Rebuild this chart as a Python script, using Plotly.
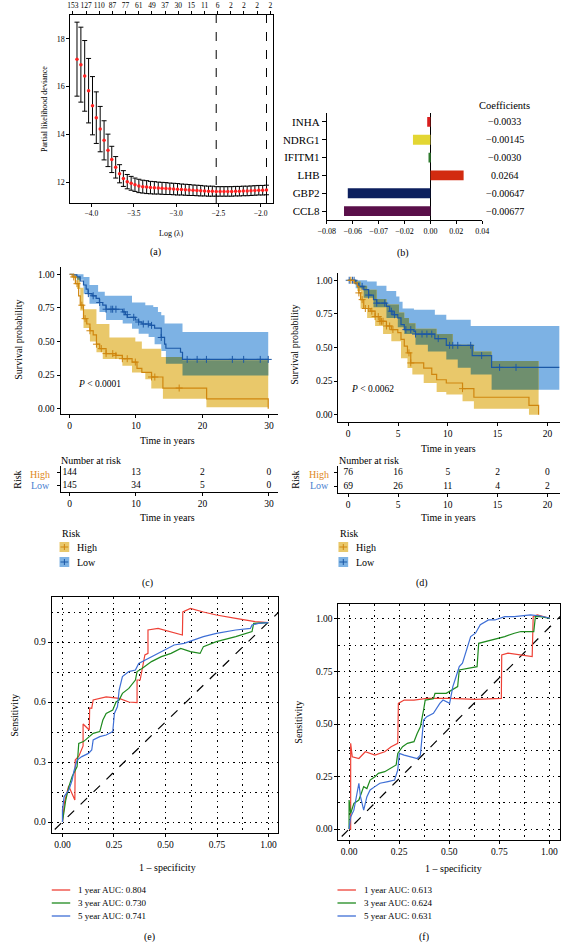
import plotly.graph_objects as go
from bisect import bisect_right

FONT = "Liberation Serif"
W, H = 568, 942


def px(x):
    return x / W


def py(y):
    return 1 - y / H


def xdom(a, b):
    return [a / W, b / W]


def ydom(top, bot):
    return [1 - bot / H, 1 - top / H]


# ---------------- (a) LASSO cross-validation ----------------
log_lambda = [-4.170, -4.124, -4.079, -4.033, -3.987, -3.942, -3.896, -3.850, -3.804, -3.759,
              -3.713, -3.667, -3.622, -3.576, -3.530, -3.485, -3.439, -3.393, -3.347, -3.302,
              -3.256, -3.210, -3.165, -3.119, -3.073, -3.028, -2.982, -2.936, -2.890, -2.845,
              -2.799, -2.753, -2.708, -2.662, -2.616, -2.571, -2.525, -2.479, -2.433, -2.388,
              -2.342, -2.296, -2.251, -2.205, -2.159, -2.114, -2.068, -2.022, -1.976, -1.931]
deviance = [17.15, 16.92, 16.45, 15.83, 15.20, 14.70, 14.22, 13.75, 13.33, 12.95,
            12.62, 12.35, 12.15, 12.02, 11.95, 11.89, 11.84, 11.81, 11.79, 11.77,
            11.76, 11.75, 11.74, 11.73, 11.72, 11.71, 11.70, 11.69, 11.68, 11.67,
            11.66, 11.65, 11.64, 11.63, 11.62, 11.62, 11.61, 11.61, 11.61, 11.61,
            11.61, 11.62, 11.62, 11.63, 11.63, 11.64, 11.65, 11.66, 11.66, 11.67]
deviance_se = [1.55, 1.57, 1.48, 1.35, 1.22, 1.08, 0.95, 0.82, 0.68, 0.55,
               0.45, 0.38, 0.33, 0.30, 0.29, 0.28, 0.28, 0.27, 0.27, 0.26,
               0.26, 0.25, 0.25, 0.25, 0.24, 0.24, 0.24, 0.23, 0.23, 0.23,
               0.22, 0.22, 0.22, 0.21, 0.21, 0.21, 0.20, 0.20, 0.20, 0.20,
               0.20, 0.20, 0.20, 0.20, 0.20, 0.20, 0.20, 0.20, 0.20, 0.20]
lambda_lines = [-2.525, -1.931]
top_tick_pos = [-4.218, -4.063, -3.907, -3.752, -3.596, -3.441, -3.285, -3.130,
                -2.974, -2.819, -2.663, -2.508, -2.352, -2.197, -2.041, -1.886]
top_tick_labels = ["153", "127", "110", "87", "77", "61", "49", "37",
                   "30", "15", "11", "6", "2", "2", "2", "2"]

# ---------------- (b) coefficients ----------------
genes = ["INHA", "NDRG1", "IFITM1", "LHB", "GBP2", "CCL8"]
bar_values = [-0.0025, -0.0135, -0.0015, 0.0256, -0.0638, -0.0667]
coef_labels = ["\u22120.0033", "\u22120.00145", "\u22120.0030", "0.0264", "\u22120.00647", "\u22120.00677"]
bar_colors = ["#D81E1E", "#E3D633", "#2E7A2E", "#D22B10", "#0C1F5E", "#5A0F4A"]
b_tickvals = [-0.08, -0.06, -0.04, -0.02, 0.0, 0.02, 0.04]
b_ticktext = ["\u22120.08", "\u22120.06", "\u22120.07", "\u22120.02", "0.00", "0.02", "0.04"]

# ---------------- (c) KM training ----------------
c_low_t = [0, 0.5, 1.1, 1.6, 2.1, 2.5, 2.8, 3.4, 4.0, 4.5, 5.0, 5.5, 8.0, 8.4, 8.7, 9.9, 10.4,
           10.9, 12.3, 12.8, 13.8, 14.3, 14.5, 16.7, 17.0]
c_low_s = [1.0, 0.995, 0.98, 0.95, 0.92, 0.89, 0.856, 0.84, 0.82, 0.79, 0.77, 0.74, 0.72, 0.70,
           0.68, 0.66, 0.645, 0.63, 0.62, 0.60, 0.53, 0.48, 0.45, 0.42, 0.367]
c_low_up_t = [0, 2.1, 3.0, 4.3, 5.3, 9.4, 11.4, 12.6, 13.3, 13.8, 14.3, 17.0]
c_low_up_v = [1.0, 0.98, 0.92, 0.87, 0.84, 0.79, 0.77, 0.757, 0.72, 0.695, 0.633, 0.57]
c_low_lo_t = [0, 1.1, 2.1, 3.0, 4.5, 5.5, 8.0, 9.4, 10.4, 11.9, 12.8, 13.8, 14.5, 17.0]
c_low_lo_v = [1.0, 0.96, 0.856, 0.78, 0.72, 0.66, 0.633, 0.595, 0.558, 0.533, 0.48, 0.43, 0.335, 0.248]
c_low_end = 29.9
c_low_cens = [2.83, 3.56, 4.54, 5.5, 6.24, 6.49, 6.98, 8.2, 8.68, 9.66, 10.4, 11.1, 11.85,
              12.34, 13.8, 17.7, 19.2, 20.6, 24.5, 26.2, 28.7, 29.9]

c_high_t = [0, 0.39, 0.88, 1.37, 1.61, 2.1, 2.59, 3.07, 3.56, 4.05, 4.54, 5.5, 6.98, 7.95,
            9.41, 10.15, 10.88, 12.34, 14.05, 20.63, 29.9]
c_high_s = [1.0, 0.98, 0.93, 0.84, 0.77, 0.67, 0.63, 0.58, 0.55, 0.48, 0.447, 0.41, 0.397, 0.372,
            0.347, 0.30, 0.27, 0.236, 0.154, 0.074, 0.0]
c_high_up_t = [0, 1.0, 1.6, 2.1, 4.05, 6.0, 9.9, 10.88, 13.8, 17.0]
c_high_up_v = [1.0, 0.98, 0.90, 0.74, 0.63, 0.53, 0.50, 0.447, 0.385, 0.36]
c_high_lo_t = [0, 0.6, 1.12, 1.61, 2.1, 3.07, 4.05, 5.0, 7.95, 9.4, 11.4, 12.3, 14.05, 20.6]
c_high_lo_v = [1.0, 0.97, 0.89, 0.73, 0.60, 0.50, 0.42, 0.37, 0.32, 0.27, 0.22, 0.15, 0.074, 0.012]
c_high_end = 29.9
c_high_cens = [0.63, 1.12, 1.85, 2.34, 3.07, 4.05, 4.78, 5.5, 6.5, 6.98, 7.95, 8.68, 9.9,
               12.34, 12.83, 16.5]

c_times = [0, 10, 20, 30]
c_risk_high = ["144", "13", "2", "0"]
c_risk_low = ["145", "34", "5", "0"]

# ---------------- (d) KM validation ----------------
d_low_t = [0, 0.75, 1.07, 1.56, 2.05, 2.54, 2.86, 3.84, 4.16, 4.49, 4.98, 5.3, 5.63, 6.6, 6.76,
           8.7, 9.85, 12.45, 14.4]
d_low_s = [1.0, 0.975, 0.955, 0.93, 0.89, 0.856, 0.83, 0.806, 0.77, 0.744, 0.72, 0.67, 0.633,
           0.62, 0.60, 0.566, 0.516, 0.44, 0.352]
d_low_up_t = [0, 1.9, 2.86, 3.84, 4.82, 5.14, 5.46, 6.6, 8.7, 9.85, 12.3]
d_low_up_v = [1.0, 0.99, 0.96, 0.92, 0.88, 0.84, 0.79, 0.78, 0.744, 0.707, 0.66]
d_low_lo_t = [0, 0.75, 1.56, 2.54, 3.84, 4.98, 5.63, 6.76, 8.0, 9.85, 11.0, 12.3, 14.4]
d_low_lo_v = [1.0, 0.94, 0.87, 0.80, 0.72, 0.65, 0.60, 0.52, 0.47, 0.41, 0.35, 0.30, 0.186]
d_low_end = 21.2
d_low_cens = [0.1, 0.42, 0.59, 1.4, 2.05, 2.86, 3.67, 4.33, 4.65, 5.79, 6.28, 6.76, 7.41, 7.9,
              8.39, 9.04, 10.18, 10.5, 11.0, 12.3, 13.4, 15.2, 16.85]

d_high_t = [0, 0.59, 0.91, 1.07, 1.24, 1.56, 2.21, 2.7, 3.19, 3.84, 4.33, 4.98, 5.3, 5.63,
            5.95, 6.28, 7.58, 8.39, 8.88, 9.85, 11.48, 12.62, 18.15, 19.12]
d_high_s = [1.0, 0.98, 0.955, 0.906, 0.856, 0.79, 0.77, 0.73, 0.695, 0.66, 0.633, 0.61, 0.56,
            0.51, 0.46, 0.385, 0.347, 0.30, 0.26, 0.236, 0.194, 0.13, 0.07, 0.0]
d_high_up_t = [0, 0.9, 1.24, 1.9, 2.86, 3.84, 5.1, 5.63, 6.1, 6.76, 8.88, 10.5, 12.62, 14.4]
d_high_up_v = [1.0, 0.99, 0.96, 0.93, 0.86, 0.82, 0.76, 0.72, 0.68, 0.64, 0.60, 0.52, 0.47, 0.40]
d_high_lo_t = [0, 0.59, 0.91, 1.24, 1.9, 2.7, 3.5, 4.33, 5.3, 5.95, 6.44, 7.58, 8.88, 9.85,
               11.48, 12.62, 18.15]
d_high_lo_v = [1.0, 0.97, 0.92, 0.79, 0.72, 0.66, 0.60, 0.546, 0.42, 0.347, 0.30, 0.236, 0.17,
               0.15, 0.10, 0.045, 0.0]
d_high_end = 19.12
d_high_cens = [0.26, 1.07, 1.4, 1.72, 2.05, 2.37, 2.7, 3.02, 3.19, 3.35, 3.5, 3.84, 4.16, 4.49,
               6.1, 6.28, 11.48]

d_times = [0, 5, 10, 15, 20]
d_risk_high = ["76", "16", "5", "2", "0"]
d_risk_low = ["69", "26", "11", "4", "2"]

# ---------------- (e) ROC training ----------------
e_red_x = [0, 0.01, 0.03, 0.045, 0.06, 0.062, 0.08, 0.1, 0.1, 0.12, 0.13, 0.132, 0.142, 0.149,
           0.212, 0.275, 0.322, 0.362, 0.362, 0.377, 0.40, 0.415, 0.415, 0.464, 0.527, 0.582,
           0.584, 0.621, 0.684, 0.747, 0.841, 0.935, 0.999]
e_red_y = [0, 0.10, 0.18, 0.14, 0.11, 0.31, 0.33, 0.38, 0.49, 0.47, 0.46, 0.57, 0.568, 0.61,
           0.626, 0.618, 0.60, 0.597, 0.71, 0.71, 0.835, 0.843, 0.96, 0.968, 0.952, 0.935,
           1.05, 1.068, 1.05, 1.035, 1.018, 1.002, 0.997]
e_green_x = [0, 0.016, 0.031, 0.047, 0.071, 0.079, 0.102, 0.134, 0.149, 0.181, 0.196, 0.212,
             0.244, 0.26, 0.275, 0.291, 0.322, 0.354, 0.362, 0.386, 0.432, 0.48, 0.527, 0.574,
             0.621, 0.668, 0.684, 0.747, 0.841, 0.92, 0.928, 0.999]
e_green_y = [0, 0.11, 0.177, 0.227, 0.277, 0.393, 0.402, 0.427, 0.443, 0.452, 0.51, 0.543,
             0.56, 0.60, 0.61, 0.643, 0.668, 0.71, 0.752, 0.768, 0.802, 0.827, 0.843, 0.868,
             0.852, 0.843, 0.877, 0.902, 0.927, 0.952, 0.993, 0.997]
e_blue_x = [0, 0, 0.008, 0.031, 0.047, 0.055, 0.071, 0.094, 0.126, 0.142, 0.149, 0.181, 0.212,
            0.244, 0.252, 0.267, 0.275, 0.291, 0.322, 0.354, 0.37, 0.401, 0.448, 0.495, 0.542,
            0.59, 0.637, 0.684, 0.747, 0.841, 0.912, 0.92, 0.951, 0.999]
e_blue_y = [0, 0.06, 0.127, 0.16, 0.21, 0.252, 0.31, 0.327, 0.343, 0.36, 0.41, 0.427, 0.435,
            0.452, 0.543, 0.577, 0.66, 0.727, 0.752, 0.76, 0.793, 0.81, 0.835, 0.86, 0.885,
            0.893, 0.91, 0.927, 0.943, 0.96, 0.968, 0.985, 0.993, 0.997]
e_diag = [-0.1, 1.1]
e_labels = ["1 year AUC: 0.804", "3 year AUC: 0.730", "5 year AUC: 0.741"]

# ---------------- (f) ROC validation ----------------
f_red_x = [0, 0.008, 0.008, 0.016, 0.049, 0.081, 0.129, 0.178, 0.21, 0.243, 0.246, 0.275,
           0.324, 0.388, 0.502, 0.631, 0.76, 0.762, 0.793, 0.858, 0.914, 0.919, 0.939, 1.003]
f_red_y = [0, 0.0, 0.408, 0.344, 0.336, 0.368, 0.352, 0.368, 0.392, 0.408, 0.598, 0.614,
           0.614, 0.622, 0.622, 0.617, 0.622, 0.829, 0.837, 0.829, 0.821, 1.011, 1.019, 1.003]
f_green_x = [0, 0, 0.008, 0.024, 0.049, 0.073, 0.089, 0.105, 0.129, 0.146, 0.178, 0.21, 0.235,
             0.243, 0.267, 0.291, 0.324, 0.34, 0.356, 0.372, 0.38, 0.421, 0.429, 0.485, 0.542,
             0.55, 0.599, 0.639, 0.647, 0.712, 0.777, 0.825, 0.858, 0.922, 0.93, 0.955, 1.003]
f_green_y = [0, 0.138, 0.074, 0.122, 0.138, 0.202, 0.193, 0.233, 0.249, 0.265, 0.273, 0.289,
             0.305, 0.36, 0.392, 0.408, 0.416, 0.455, 0.487, 0.567, 0.614, 0.62, 0.646, 0.646,
             0.678, 0.757, 0.765, 0.773, 0.884, 0.9, 0.916, 0.932, 0.94, 0.94, 1.011, 1.011, 1.003]
f_blue_x = [0, 0.008, 0.024, 0.032, 0.049, 0.057, 0.073, 0.089, 0.105, 0.129, 0.154, 0.194,
            0.227, 0.243, 0.251, 0.275, 0.307, 0.34, 0.356, 0.364, 0.372, 0.388, 0.421, 0.453,
            0.469, 0.502, 0.518, 0.534, 0.55, 0.566, 0.591, 0.607, 0.631, 0.655, 0.696, 0.728,
            0.777, 0.825, 0.906, 0.955, 1.003]
f_blue_y = [0, 0.058, 0.09, 0.138, 0.218, 0.154, 0.09, 0.154, 0.186, 0.202, 0.218, 0.226,
            0.233, 0.281, 0.36, 0.352, 0.344, 0.336, 0.352, 0.424, 0.519, 0.535, 0.551, 0.598,
            0.614, 0.598, 0.678, 0.725, 0.773, 0.789, 0.868, 0.916, 0.932, 0.972, 0.995, 0.995,
            1.011, 1.011, 1.019, 1.014, 1.003]
f_diag_x = [-0.1, 1.1]
f_diag_y = [-0.096, 1.056]
f_labels = ["1 year AUC: 0.613", "3 year AUC: 0.624", "5 year AUC: 0.631"]

# ---------------- styles ----------------
BLUE_LINE = "#1B58A6"
ORANGE_LINE = "#CF860F"
BLUE_BAND = "#7DB2E4"
YELLOW_BAND = "#E9C86A"
GREEN_BAND = "#6F8F6E"
HIGH_TXT = "#E0891A"
LOW_TXT = "#4A7FD0"
ROC_RED = "#EE4136"
ROC_GREEN = "#1E8A1E"
ROC_BLUE = "#3E6FD6"

fig = go.Figure()
annotations = []
shapes = []


def ann(x, y, text, size=9.5, color="black", xanchor="center", yanchor="middle", angle=0):
    annotations.append(dict(x=px(x), y=py(y), xref="paper", yref="paper", text=text,
                            showarrow=False, xanchor=xanchor, yanchor=yanchor, textangle=angle,
                            font=dict(family=FONT, size=size, color=color)))


def axis(**kw):
    base = dict(showline=True, linecolor="black", linewidth=1, ticks="outside", tickcolor="black",
                ticklen=3, tickwidth=1, showgrid=False, zeroline=False, tickangle=0,
                tickfont=dict(family=FONT, size=9.5, color="black"))
    base.update(kw)
    return base


# ---------- (a) ----------
fig.add_trace(go.Scatter(x=log_lambda, y=deviance, mode="markers", xaxis="x", yaxis="y",
                         marker=dict(color="#FF2020", size=3.5),
                         error_y=dict(type="data", array=deviance_se, color="black",
                                      thickness=1, width=2.5), hoverinfo="skip"))
fig.add_trace(go.Scatter(x=[log_lambda[0]], y=[deviance[0]], mode="markers", xaxis="x2",
                         yaxis="y", marker=dict(opacity=0), hoverinfo="skip"))
for v in lambda_lines:
    shapes.append(dict(type="line", xref="x", yref="y domain", x0=v, x1=v, y0=0, y1=1,
                       line=dict(color="black", width=1, dash="dash")))
ann(37, 109, "Partial likelihood deviance", size=8, angle=-90)
ann(167, 233, "Log (\u03bb)", size=8)
ann(151, 252, "(a)", size=10)

# ---------- (b) ----------
fig.add_trace(go.Bar(x=bar_values, y=genes, orientation="h", xaxis="x3", yaxis="y3",
                     marker=dict(color=bar_colors, line=dict(width=0)), width=0.55,
                     hoverinfo="skip"))
ann(510, 106, "Coefficients", size=10.5)
for g, lab in zip(genes, coef_labels):
    annotations.append(dict(x=px(510), y=g, xref="paper", yref="y3", text=lab, showarrow=False,
                            xanchor="center", yanchor="middle",
                            font=dict(family=FONT, size=10, color="black")))
ann(405, 253, "(b)", size=10)


# ---------- KM helpers ----------
def step_xy(t, s, t_end):
    xs, ys = [], []
    for i in range(len(t)):
        if i > 0:
            xs.append(t[i])
            ys.append(s[i - 1])
        xs.append(t[i])
        ys.append(s[i])
    xs.append(t_end)
    ys.append(s[-1])
    return xs, ys


def step_val(t, s, x):
    i = bisect_right(t, x) - 1
    return s[max(i, 0)]


def band_polygon(tu, vu, tl, vl, t_end):
    ux, uy = step_xy(tu, vu, t_end)
    lx, ly = step_xy(tl, vl, t_end)
    return ux + lx[::-1], uy + ly[::-1]


def overlap_polygon(b1, b2, t_end):
    grid = sorted(set(b1[0] + b1[2] + b2[0] + b2[2]))
    grid = [g for g in grid if g <= t_end]
    up, lo = [], []
    for g in grid:
        u = min(step_val(b1[0], b1[1], g), step_val(b2[0], b2[1], g))
        l = max(step_val(b1[2], b1[3], g), step_val(b2[2], b2[3], g))
        if u < l:
            u = l
        up.append(u)
        lo.append(l)
    return band_polygon(grid, up, grid, lo, t_end)


def add_km(xa, ya, low, high):
    (lt, ls, lut, luv, llt, llv, lend, lcens) = low
    (ht, hs, hut, huv, hlt, hlv, hend, hcens) = high
    bx, by = band_polygon(lut, luv, llt, llv, lend)
    fig.add_trace(go.Scatter(x=bx, y=by, fill="toself", fillcolor=BLUE_BAND, mode="lines",
                             line=dict(width=0), xaxis=xa, yaxis=ya, hoverinfo="skip"))
    hx, hy = band_polygon(hut, huv, hlt, hlv, hend)
    fig.add_trace(go.Scatter(x=hx, y=hy, fill="toself", fillcolor=YELLOW_BAND, mode="lines",
                             line=dict(width=0), xaxis=xa, yaxis=ya, hoverinfo="skip"))
    ox, oy = overlap_polygon((lut, luv, llt, llv), (hut, huv, hlt, hlv), min(lend, hend))
    fig.add_trace(go.Scatter(x=ox, y=oy, fill="toself", fillcolor=GREEN_BAND, mode="lines",
                             line=dict(width=0), xaxis=xa, yaxis=ya, hoverinfo="skip"))
    for (t, s, end, cens, col) in [(lt, ls, lend, lcens, BLUE_LINE), (ht, hs, hend, hcens, ORANGE_LINE)]:
        fig.add_trace(go.Scatter(x=t + [end], y=s + [s[-1]], mode="lines", line_shape="hv",
                                 line=dict(color=col, width=1.2), xaxis=xa, yaxis=ya,
                                 hoverinfo="skip"))
        fig.add_trace(go.Scatter(x=cens, y=[step_val(t, s, c) for c in cens], mode="markers",
                                 marker=dict(symbol="cross-thin", size=5,
                                             line=dict(color=col, width=1)),
                                 xaxis=xa, yaxis=ya, hoverinfo="skip"))


def add_risk(xa, ya, times, high, low):
    fig.add_trace(go.Scatter(x=times + times, y=[1] * len(times) + [0] * len(times),
                             text=high + low, mode="text", xaxis=xa, yaxis=ya,
                             textfont=dict(family=FONT, size=9.5, color="black"),
                             hoverinfo="skip"))


def km_legend(x0, items_y):
    for (yy, band, line, name) in items_y:
        shapes.append(dict(type="rect", xref="paper", yref="paper", x0=px(x0), x1=px(x0 + 10),
                           y0=py(yy + 5), y1=py(yy - 5), fillcolor=band, line=dict(width=0)))
        shapes.append(dict(type="line", xref="paper", yref="paper", x0=px(x0 + 1), x1=px(x0 + 9),
                           y0=py(yy), y1=py(yy), line=dict(color=line, width=1)))
        shapes.append(dict(type="line", xref="paper", yref="paper", x0=px(x0 + 5), x1=px(x0 + 5),
                           y0=py(yy + 3), y1=py(yy - 3), line=dict(color=line, width=1)))
        ann(x0 + 16, yy, name, size=10, xanchor="left")


# ---------- (c) ----------
add_km("x4", "y4",
       (c_low_t, c_low_s, c_low_up_t, c_low_up_v, c_low_lo_t, c_low_lo_v, c_low_end, c_low_cens),
       (c_high_t, c_high_s, c_high_up_t, c_high_up_v, c_high_lo_t, c_high_lo_v, c_high_end, c_high_cens))
add_risk("x5", "y5", c_times, c_risk_high, c_risk_low)
ann(10, 340, "Survival probability", size=10, angle=-90)
annotations.append(dict(x=1.0, y=0.186, xref="x4", yref="y4", text="<i>P</i> < 0.0001",
                        showarrow=False, xanchor="left", yanchor="middle",
                        font=dict(family=FONT, size=9.5, color="black")))
ann(163, 440, "Time in years", size=10)
ann(51, 460, "Number at risk", size=10, xanchor="left")
ann(44, 474, "High", size=10, color=HIGH_TXT, xanchor="right")
ann(44, 485, "Low", size=10, color=LOW_TXT, xanchor="right")
ann(8, 480, "Risk", size=10, angle=-90)
ann(163, 517, "Time in years", size=10)
ann(52, 533, "Risk", size=10, xanchor="left")
km_legend(52, [(547, YELLOW_BAND, ORANGE_LINE, "High"), (562, BLUE_BAND, BLUE_LINE, "Low")])
ann(143, 583, "(c)", size=10)

# ---------- (d) ----------
add_km("x6", "y6",
       (d_low_t, d_low_s, d_low_up_t, d_low_up_v, d_low_lo_t, d_low_lo_v, d_low_end, d_low_cens),
       (d_high_t, d_high_s, d_high_up_t, d_high_up_v, d_high_lo_t, d_high_lo_v, d_high_end, d_high_cens))
add_risk("x7", "y7", d_times, d_risk_high, d_risk_low)
ann(293, 345, "Survival probability", size=10, angle=-90)
annotations.append(dict(x=0.1, y=0.19, xref="x6", yref="y6", text="<i>P</i> < 0.0062",
                        showarrow=False, xanchor="left", yanchor="middle",
                        font=dict(family=FONT, size=9.5, color="black")))
ann(452, 448, "Time in years", size=10)
ann(338, 460, "Number at risk", size=10, xanchor="left")
ann(331, 474, "High", size=10, color=HIGH_TXT, xanchor="right")
ann(331, 485, "Low", size=10, color=LOW_TXT, xanchor="right")
ann(294, 480, "Risk", size=10, angle=-90)
ann(452, 517, "Time in years", size=10)
ann(339, 533, "Risk", size=10, xanchor="left")
km_legend(339, [(547, YELLOW_BAND, ORANGE_LINE, "High"), (562, BLUE_BAND, BLUE_LINE, "Low")])
ann(425, 583, "(d)", size=10)


# ---------- ROC ----------
def add_roc(xa, ya, curves):
    for (xs, ys, col) in curves:
        fig.add_trace(go.Scatter(x=xs, y=ys, mode="lines", line=dict(color=col, width=1.2),
                                 xaxis=xa, yaxis=ya, hoverinfo="skip"))


def roc_legend(x0, ys, labels):
    for yy, lab, col in zip(ys, labels, [ROC_RED, ROC_GREEN, ROC_BLUE]):
        shapes.append(dict(type="line", xref="paper", yref="paper", x0=px(x0), x1=px(x0 + 19),
                           y0=py(yy), y1=py(yy), line=dict(color=col, width=1.3)))
        ann(x0 + 25, yy, lab, size=9, xanchor="left")


fig.add_trace(go.Scatter(x=e_diag, y=e_diag, mode="lines", xaxis="x8", yaxis="y8",
                         line=dict(color="black", width=1.2, dash="dash"), hoverinfo="skip"))
add_roc("x8", "y8", [(e_red_x, e_red_y, ROC_RED), (e_green_x, e_green_y, ROC_GREEN),
                     (e_blue_x, e_blue_y, ROC_BLUE)])
ann(5, 715, "Sensitivity", size=10, angle=-90)
ann(163, 867, "1 \u2013 specificity", size=10)
roc_legend(44, [890, 903, 916], e_labels)
ann(145, 937, "(e)", size=10)

fig.add_trace(go.Scatter(x=f_diag_x, y=f_diag_y, mode="lines", xaxis="x9", yaxis="y9",
                         line=dict(color="black", width=1.2, dash="dash"), hoverinfo="skip"))
add_roc("x9", "y9", [(f_red_x, f_red_y, ROC_RED), (f_green_x, f_green_y, ROC_GREEN),
                     (f_blue_x, f_blue_y, ROC_BLUE)])
ann(297, 722, "Sensitivity", size=10, angle=-90)
ann(457, 868, "1 \u2013 specificity", size=10)
roc_legend(338, [890, 903, 916], f_labels)
ann(427, 937, "(f)", size=10)

GRID = dict(showgrid=True, gridcolor="black", gridwidth=1.3, griddash="1.5px,4px")

fig.update_layout(
    width=W, height=H, margin=dict(l=0, r=0, t=0, b=0),
    paper_bgcolor="white", plot_bgcolor="white", showlegend=False,
    font=dict(family=FONT, color="black"),
    annotations=annotations, shapes=shapes,
    # (a)
    xaxis=axis(domain=xdom(63, 272), range=[-4.25, -1.85], anchor="y", mirror=True,
               tickvals=[-4, -3.5, -3, -2.5, -2], tickformat=".1f",
               tickfont=dict(family=FONT, size=7.5, color="black")),
    xaxis2=axis(overlaying="x", side="top", anchor="y", range=[-4.25, -1.85], showline=False,
                tickvals=top_tick_pos, ticktext=top_tick_labels,
                tickfont=dict(family=FONT, size=7.5, color="black")),
    yaxis=axis(domain=ydom(15, 203), range=[11.125, 19.0], anchor="x", mirror=True,
               tickvals=[12, 14, 16, 18], tickfont=dict(family=FONT, size=8, color="black")),
    # (b)
    xaxis3=axis(domain=xdom(327, 487), range=[-0.08, 0.04], anchor="y3", tickvals=b_tickvals,
                ticktext=b_ticktext, zeroline=True, zerolinecolor="black", zerolinewidth=1,
                tickfont=dict(family=FONT, size=8, color="black")),
    yaxis3=axis(domain=ydom(113, 220), anchor="x3", categoryorder="array",
                categoryarray=genes[::-1], range=[-0.5, 5.5], ticklen=4,
                tickfont=dict(family=FONT, size=11, color="black")),
    # (c)
    xaxis4=axis(domain=xdom(53, 277), range=[-1.36, 31.4], anchor="y4", tickvals=c_times),
    yaxis4=axis(domain=ydom(267, 414), range=[-0.039, 1.054], anchor="x4",
                tickvals=[0, 0.25, 0.5, 0.75, 1.0], tickformat=".2f"),
    xaxis5=axis(domain=xdom(53, 277), range=[-1.36, 31.4], anchor="y5", tickvals=c_times),
    yaxis5=axis(domain=ydom(466, 492), range=[-0.5, 1.5], anchor="x5", tickvals=[0, 1],
                showticklabels=False),
    # (d)
    xaxis6=axis(domain=xdom(339, 567), range=[-0.98, 21.27], anchor="y6", tickvals=d_times),
    yaxis6=axis(domain=ydom(273, 422), range=[-0.054, 1.054], anchor="x6",
                tickvals=[0, 0.25, 0.5, 0.75, 1.0], tickformat=".2f"),
    xaxis7=axis(domain=xdom(339, 567), range=[-0.98, 21.27], anchor="y7", tickvals=d_times),
    yaxis7=axis(domain=ydom(466, 493), range=[-0.5, 1.5], anchor="x7", tickvals=[0, 1],
                showticklabels=False),
    # (e)
    xaxis8=axis(domain=xdom(44, 277), range=[-0.052, 1.047], anchor="y8", mirror=True,
                tick0=0, dtick=0.25, tickformat=".2f",
                minor=dict(dtick=0.125, tick0=0, **GRID), **GRID),
    yaxis8=axis(domain=ydom(597, 833), range=[-0.055, 1.125], anchor="x8", mirror=True,
                tick0=0, dtick=0.3, tickformat=".1f",
                minor=dict(dtick=0.15, tick0=0, **GRID), **GRID),
    # (f)
    xaxis9=axis(domain=xdom(339, 567), range=[-0.053, 1.053], anchor="y9", mirror=True,
                tick0=0, dtick=0.25, tickformat=".2f",
                minor=dict(dtick=0.125, tick0=0, **GRID), **GRID),
    yaxis9=axis(domain=ydom(604, 840), range=[-0.052, 1.071], anchor="x9", mirror=True,
                tick0=0, dtick=0.25, tickformat=".2f",
                minor=dict(dtick=0.125, tick0=0, **GRID), **GRID),
)

fig.write_html("out.html", config={"displayModeBar": False},
               post_script="document.body.style.margin='0';")
